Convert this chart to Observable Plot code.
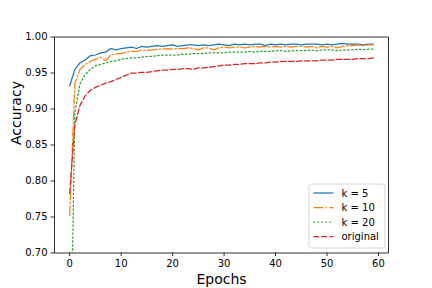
<!DOCTYPE html>
<html><head><meta charset="utf-8">
<script src="https://cdn.jsdelivr.net/npm/d3@7"></script>
<script src="https://cdn.jsdelivr.net/npm/@observablehq/plot@0.6"></script>
<style>body{margin:0;background:#fff;} svg{font-family:"DejaVu Sans",sans-serif;}</style>
</head><body><div id="chart"></div>
<script>
const seriesNames = ["k = 5", "k = 10", "k = 20", "original"];
const k5 = [0.932,0.955,0.964,0.968,0.974,0.975,0.978,0.979,0.984,0.982,
  0.984,0.985,0.986,0.984,0.987,0.986,0.987,0.988,0.987,0.988,
  0.989,0.987,0.988,0.989,0.989,0.988,0.989,0.988,0.989,0.990,
  0.989,0.988,0.990,0.989,0.990,0.989,0.990,0.990,0.988,0.990,
  0.989,0.990,0.989,0.990,0.990,0.989,0.990,0.990,0.990,0.989,
  0.990,0.989,0.990,0.991,0.990,0.990,0.990,0.989,0.990,0.990];
const k10 = [0.752,0.935,0.955,0.962,0.966,0.969,0.972,0.967,0.975,0.977,
  0.977,0.979,0.980,0.980,0.982,0.981,0.982,0.983,0.983,0.984,
  0.983,0.984,0.984,0.985,0.984,0.982,0.985,0.985,0.982,0.985,
  0.986,0.985,0.986,0.986,0.985,0.986,0.987,0.986,0.987,0.986,
  0.987,0.986,0.987,0.986,0.987,0.987,0.986,0.987,0.985,0.987,
  0.986,0.987,0.985,0.987,0.988,0.988,0.989,0.988,0.989,0.989];
const k20 = [0.45,0.895,0.935,0.948,0.955,0.960,0.962,0.964,0.966,0.967,
  0.969,0.970,0.971,0.971,0.972,0.973,0.973,0.974,0.975,0.975,
  0.975,0.975,0.976,0.976,0.977,0.977,0.977,0.978,0.978,0.978,
  0.978,0.979,0.979,0.979,0.979,0.980,0.979,0.980,0.980,0.980,
  0.981,0.981,0.980,0.981,0.981,0.981,0.981,0.982,0.981,0.982,
  0.982,0.982,0.981,0.982,0.982,0.982,0.983,0.982,0.983,0.983];
const original = [0.783,0.878,0.905,0.918,0.926,0.930,0.933,0.936,0.938,0.941,
  0.944,0.947,0.950,0.950,0.951,0.951,0.952,0.953,0.954,0.954,
  0.955,0.955,0.956,0.956,0.955,0.957,0.957,0.958,0.959,0.960,
  0.961,0.961,0.962,0.962,0.963,0.963,0.963,0.964,0.964,0.965,
  0.965,0.966,0.966,0.966,0.966,0.967,0.967,0.967,0.967,0.968,
  0.968,0.968,0.969,0.969,0.969,0.969,0.970,0.970,0.970,0.971];
const xTicks = [0, 10, 20, 30, 40, 50, 60];
const yTicks = [0.70, 0.75, 0.80, 0.85, 0.90, 0.95, 1.00];
const colors = ["#1f77b4", "#ff7f0e", "#2ca02c", "#d62728"];
const dashes = [null, "9.6,2.4,1.5,2.4", "1.5,2.475", "5.55,2.4"];

const allSeries = [k5, k10, k20, original];
const tables = allSeries.map(vals => vals.map((v, e) => ({epoch: e, acc: v})));

const lineMarks = tables.map((t, i) => Plot.line(t, {
  x: "epoch", y: "acc", stroke: colors[i], strokeWidth: 1.25,
  strokeDasharray: dashes[i] || undefined, clip: true
}));

const chart = Plot.plot({
  width: 432, height: 288,
  marginLeft: 54, marginRight: 44, marginTop: 36.5, marginBottom: 35.5,
  style: {fontFamily: "DejaVu Sans", fontSize: "10px", color: "black", background: "white"},
  x: {domain: [-2.95, 61.95]},
  y: {domain: [0.70, 1.00]},
  marks: [
    ...lineMarks,
    Plot.axisX({ticks: xTicks, tickSize: 3.5, tickPadding: 3.5, label: null, strokeWidth: 0.8}),
    Plot.axisY({ticks: yTicks, tickSize: 3.5, tickPadding: 3.5, tickFormat: ".2f", label: null, strokeWidth: 0.8}),
    Plot.frame({stroke: "black", strokeWidth: 0.8}),
    Plot.text(["Epochs"], {frameAnchor: "bottom", dy: 26.5, fontSize: 14, lineAnchor: "middle"}),
    Plot.text(["Accuracy"], {frameAnchor: "left", dx: -38, rotate: -90, fontSize: 14, lineAnchor: "middle"})
  ]
});
document.getElementById("chart").appendChild(chart);

// legend
const svg = d3.select(chart);
const lg = svg.append("g").attr("class", "legend");
lg.append("rect").attr("x", 309).attr("y", 184).attr("width", 76).attr("height", 64)
  .attr("rx", 2.5).attr("fill", "white").attr("fill-opacity", 0.8)
  .attr("stroke", "#cccccc").attr("stroke-width", 0.8);
const rowY = [193, 207.5, 222, 236.5];
seriesNames.forEach((name, i) => {
  lg.append("line").attr("x1", 313.5).attr("x2", 333.5).attr("y1", rowY[i]).attr("y2", rowY[i])
    .attr("stroke", colors[i]).attr("stroke-width", 1.25)
    .attr("stroke-dasharray", dashes[i] || null);
  lg.append("text").attr("x", 341.5).attr("y", rowY[i]).attr("dy", "0.35em")
    .attr("text-anchor", "start")
    .attr("font-size", 10).attr("fill", "black").text(name);
});
</script></body></html>
